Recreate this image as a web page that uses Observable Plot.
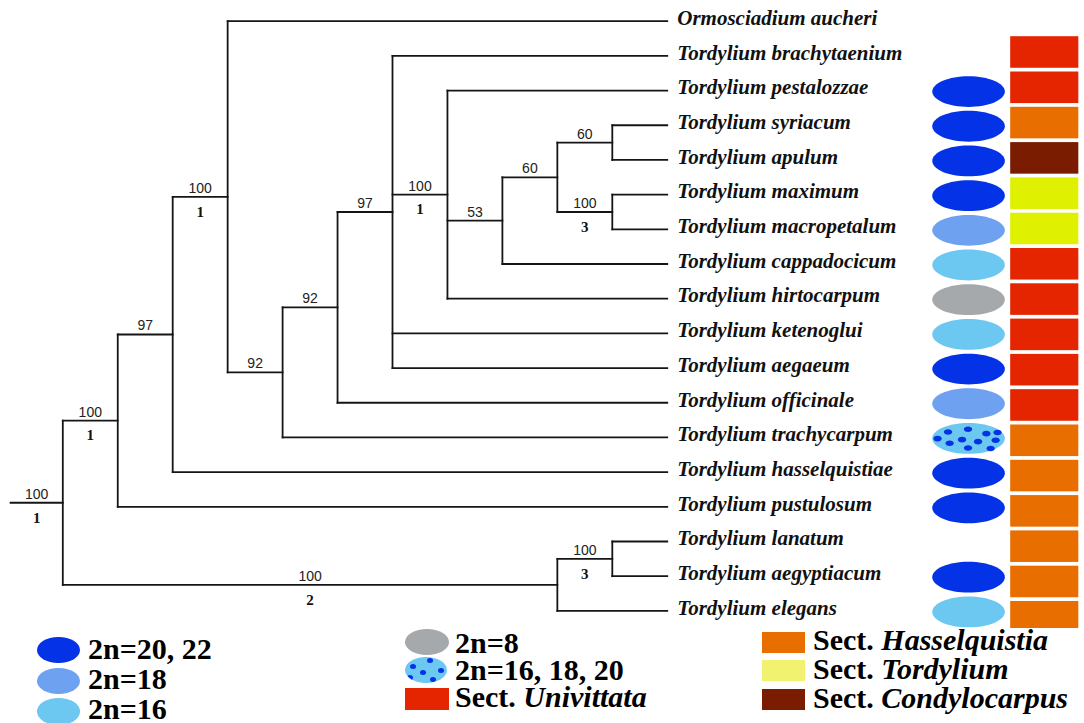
<!DOCTYPE html>
<html><head><meta charset="utf-8">
<script src="https://cdn.jsdelivr.net/npm/d3@7"></script>
<script src="https://cdn.jsdelivr.net/npm/@observablehq/plot@0.6"></script>
<style>
body{margin:0;background:#fff;}
#wrap{width:1084px;}
#chart svg{display:block;}
#legend{position:relative;width:1084px;height:95px;font-family:"Liberation Serif","Times New Roman",serif;font-weight:bold;font-size:30px;line-height:26px;color:#000;}
#legend .sw{position:absolute;overflow:hidden;}
#legend .tx{position:absolute;white-space:nowrap;}
#legend .dot{position:absolute;border-radius:50%;}
</style></head><body>
<div id="wrap"><div id="chart"></div><div id="legend"></div></div>
<script>
// ---------- data ----------
const taxa = [
  "Ormosciadium aucheri","Tordylium brachytaenium","Tordylium pestalozzae","Tordylium syriacum",
  "Tordylium apulum","Tordylium maximum","Tordylium macropetalum","Tordylium cappadocicum",
  "Tordylium hirtocarpum","Tordylium ketenoglui","Tordylium aegaeum","Tordylium officinale",
  "Tordylium trachycarpum","Tordylium hasselquistiae","Tordylium pustulosum","Tordylium lanatum",
  "Tordylium aegyptiacum","Tordylium elegans"
];
const chromosomes = [
  null,null,"2n=20, 22","2n=20, 22","2n=20, 22","2n=20, 22","2n=18","2n=16","2n=8","2n=16",
  "2n=20, 22","2n=18","2n=16, 18, 20","2n=20, 22","2n=20, 22",null,"2n=20, 22","2n=16"
];
const sections = [
  null,"Univittata","Univittata","Hasselquistia","Condylocarpus","Tordylium","Tordylium",
  "Univittata","Univittata","Univittata","Univittata","Univittata","Hasselquistia",
  "Hasselquistia","Hasselquistia","Hasselquistia","Hasselquistia","Hasselquistia"
];
// internal nodes of the cladogram (depth = level from the root)
const nodeIds = ["root","n1","n2","n3","n4","n5","n6","n7","n8","n9","n10","n11","n12","n13"];
const nodeDepth = [0,1,2,3,4,5,6,7,8,9,10,10,9,10];
const nodeChildren = [
  ["n1","n12"],
  ["n2","Tordylium pustulosum"],
  ["n3","Tordylium hasselquistiae"],
  ["Ormosciadium aucheri","n4"],
  ["n5","Tordylium trachycarpum"],
  ["n6","Tordylium officinale"],
  ["Tordylium brachytaenium","n7","Tordylium ketenoglui","Tordylium aegaeum"],
  ["Tordylium pestalozzae","n8","Tordylium hirtocarpum"],
  ["n9","Tordylium cappadocicum"],
  ["n10","n11"],
  ["Tordylium syriacum","Tordylium apulum"],
  ["Tordylium maximum","Tordylium macropetalum"],
  ["n13","Tordylium elegans"],
  ["Tordylium lanatum","Tordylium aegyptiacum"]
];
const bootstrap = [100,100,97,100,92,92,97,100,53,60,60,100,100,100];
const bremer    = [1,1,null,1,null,null,null,1,null,null,null,3,2,3];
const tipDepth = 11;

const chromosomeClasses = ["2n=20, 22","2n=18","2n=16","2n=8","2n=16, 18, 20"];
const chromosomeColors  = ["#0432E6","#6EA2F0","#6CC8F0","#A5A9AC","#6CC8F0"];
const sectionNames        = ["Univittata","Hasselquistia","Tordylium","Condylocarpus"];
const sectionColors       = ["#E52400","#E96E00","#DFF000","#7A1C00"];
const sectionLegendColors = ["#E52400","#E96E00","#F0F270","#7A1C00"];

// ---------- layout ----------
const pos = new Map();
taxa.forEach((t,i)=>pos.set(t,{x:tipDepth,y:i}));
const parentOf = new Map();
function place(id){
  if(pos.has(id)) return pos.get(id);
  const k = nodeIds.indexOf(id);
  const ch = nodeChildren[k].map(c=>{parentOf.set(c,id); return place(c);});
  const p = {x:nodeDepth[k], y:(ch[0].y+ch[ch.length-1].y)/2};
  pos.set(id,p); return p;
}
place("root");
const rootStub = -0.95;
const segs = [];
nodeIds.forEach((id,k)=>{
  const p = pos.get(id);
  const ch = nodeChildren[k].map(c=>pos.get(c));
  segs.push({x1:p.x,y1:ch[0].y,x2:p.x,y2:ch[ch.length-1].y});
  ch.forEach(c=>segs.push({x1:p.x,y1:c.y,x2:c.x,y2:c.y}));
});
segs.push({x1:rootStub,y1:pos.get("root").y,x2:0,y2:pos.get("root").y});

const nodeLabels = nodeIds.map((id,k)=>{
  const p = pos.get(id);
  const px = id==="root" ? rootStub : pos.get(parentOf.get(id)).x;
  return {x:(px+p.x)/2, y:p.y, boot:bootstrap[k], brem:bremer[k]};
});

const tips = taxa.map((t,i)=>({name:t,i,chrom:chromosomes[i],sect:sections[i]}));
const chromColor = c => chromosomeColors[chromosomeClasses.indexOf(c)];
const sectColor = s => sectionColors[sectionNames.indexOf(s)];
const sectRows = tips.filter(d=>d.sect).map((d,k)=>({...d,k}));
const SEC_START = 0.902, SEC_PITCH = 1.0176, SEC_HALF = 0.455, SEC_X1 = 17.25, SEC_X2 = 18.49;

// symbols
const K = 0.5523;
function ellipsePath(ctx,cx,cy,rx,ry){
  ctx.moveTo(cx+rx,cy);
  ctx.bezierCurveTo(cx+rx,cy+ry*K,cx+rx*K,cy+ry,cx,cy+ry);
  ctx.bezierCurveTo(cx-rx*K,cy+ry,cx-rx,cy+ry*K,cx-rx,cy);
  ctx.bezierCurveTo(cx-rx,cy-ry*K,cx-rx*K,cy-ry,cx,cy-ry);
  ctx.bezierCurveTo(cx+rx*K,cy-ry,cx+rx,cy-ry*K,cx+rx,cy);
  ctx.closePath();
}
const ellipseSym = {draw(ctx){ ellipsePath(ctx,0,0,36.3,15.4); }};
const texture = [[-20.5,-6.5],[-0.5,-9.2],[17.8,-4.8],[29,-6],[-31,0.2],[-6.5,1.2],[9.5,3.2],[27.1,1.8],[-18.9,4.8],[-0.5,9.5],[22.1,10]];
const textureSym = {draw(ctx){ texture.forEach(([x,y])=>ellipsePath(ctx,x,y,4.2,2.8)); }};

const chart = Plot.plot({
  width:1084, height:628, margin:0,
  x:{type:"linear", domain:[-1,11], range:[7.35,666.75], axis:null},
  y:{type:"linear", domain:[0,17], range:[20.7,610.4], axis:null},
  color:{type:"identity"},
  marks:[
    Plot.rect(sectRows,{
      x1:()=>SEC_X1, x2:()=>SEC_X2,
      y1:d=>SEC_START+SEC_PITCH*d.k-SEC_HALF, y2:d=>SEC_START+SEC_PITCH*d.k+SEC_HALF,
      fill:d=>sectColor(d.sect)
    }),
    Plot.dot(tips.filter(d=>d.chrom),{
      x:()=>tipDepth, y:"i", dx:301.3, dy:1, symbol:ellipseSym,
      fill:d=>chromColor(d.chrom), stroke:"none"
    }),
    Plot.dot(tips.filter(d=>d.chrom==="2n=16, 18, 20"),{
      x:()=>tipDepth, y:"i", dx:301.3, dy:1, symbol:textureSym,
      fill:()=>chromosomeColors[0], stroke:"none"
    }),
    Plot.link(segs,{x1:"x1",y1:"y1",x2:"x2",y2:"y2",stroke:"#151515",strokeWidth:1.8,strokeLinecap:"square"}),
    Plot.text(tips,{
      x:()=>tipDepth, y:"i", text:"name", dx:10, dy:-3, textAnchor:"start",
      fontFamily:"Liberation Serif", fontSize:21, fontWeight:"bold", fontStyle:"italic", fill:"#111"
    }),
    Plot.text(nodeLabels,{
      x:"x", y:"y", text:d=>String(d.boot), dy:-8.5,
      fontFamily:"Liberation Sans", fontSize:14, fill:"#222"
    }),
    Plot.text(nodeLabels.filter(d=>d.brem!=null),{
      x:"x", y:"y", text:d=>String(d.brem), dy:15,
      fontFamily:"Liberation Serif", fontSize:15, fontWeight:"bold", fill:"#111"
    })
  ]
});
document.getElementById("chart").appendChild(chart);

// ---------- legend (HTML below the SVG) ----------
const legend = document.getElementById("legend");
function add(cls, css, html){
  const el = document.createElement("div");
  el.className = cls; el.style.cssText = css; if(html!=null) el.innerHTML = html;
  legend.appendChild(el); return el;
}
// column 1
[[0,8.7,7.9],[1,39.7,37.9],[2,70.3,67.9]].forEach(([c,st,tt])=>{
  add("sw",`left:36.7px;top:${st}px;width:43.3px;height:26.6px;border-radius:50%;background:${chromosomeColors[c]}`);
  add("tx",`left:88px;top:${tt}px`,chromosomeClasses[c]);
});
// column 2
add("sw",`left:405px;top:1.3px;width:44px;height:25.7px;border-radius:50%;background:${chromosomeColors[3]}`);
add("tx",`left:455px;top:2.2px`,chromosomeClasses[3]);
const dotted = add("sw",`left:405px;top:29.3px;width:42px;height:26px;border-radius:50%;background:${chromosomeColors[4]}`);
[[0.59,0.12],[0.19,0.35],[0.42,0.6],[0.85,0.5],[0.13,0.78],[0.66,0.86]].forEach(([fx,fy])=>{
  const d = document.createElement("div");
  d.className="dot"; d.style.cssText=`left:${fx*42-3}px;top:${fy*26-2.5}px;width:6px;height:5px;background:${chromosomeColors[0]}`;
  dotted.appendChild(d);
});
add("tx",`left:455px;top:28.9px`,chromosomeClasses[4]);
add("sw",`left:405px;top:60.3px;width:44px;height:21.7px;background:${sectionLegendColors[0]}`);
add("tx",`left:455px;top:56.2px`,`Sect. <i>${sectionNames[0]}</i>`);
// column 3
[[1,3.7,-1.1],[2,32,28.2],[3,61.3,57.2]].forEach(([s,st,tt])=>{
  add("sw",`left:761.7px;top:${st}px;width:43.3px;height:21px;background:${sectionLegendColors[s]}`);
  add("tx",`left:813px;top:${tt}px`,`Sect. <i>${sectionNames[s]}</i>`);
});
</script>
</body></html>
